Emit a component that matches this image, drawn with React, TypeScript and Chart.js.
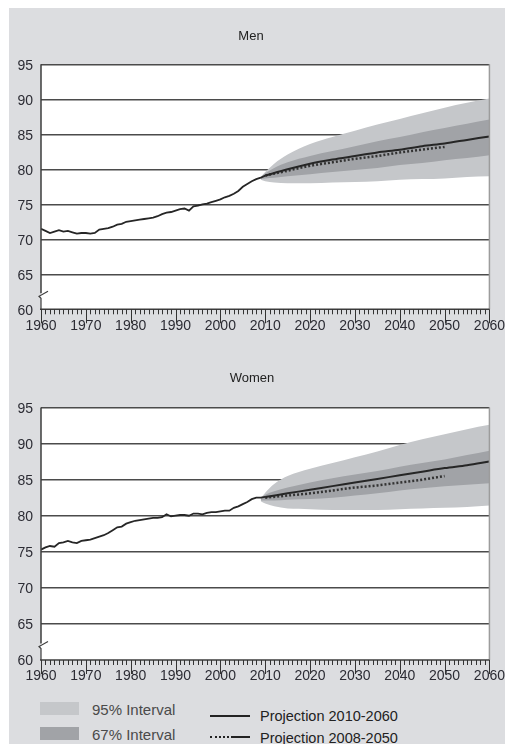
import React, { useEffect, useRef } from "react";
import { Chart, registerables } from "chart.js";

Chart.register(...registerables);

// ---------- data ----------
const histYears = [
  1960, 1961, 1962, 1963, 1964, 1965, 1966, 1967, 1968, 1969,
  1970, 1971, 1972, 1973, 1974, 1975, 1976, 1977, 1978, 1979,
  1980, 1981, 1982, 1983, 1984, 1985, 1986, 1987, 1988, 1989,
  1990, 1991, 1992, 1993, 1994, 1995, 1996, 1997, 1998, 1999,
  2000, 2001, 2002, 2003, 2004, 2005, 2006, 2007, 2008, 2009, 2010,
];
const menHist = [
  71.5, 71.2, 70.9, 71.1, 71.3, 71.1, 71.2, 71.0, 70.8, 70.9,
  70.9, 70.8, 70.9, 71.4, 71.5, 71.6, 71.8, 72.1, 72.2, 72.5,
  72.6, 72.7, 72.8, 72.9, 73.0, 73.1, 73.3, 73.6, 73.8, 73.9,
  74.1, 74.3, 74.4, 74.1, 74.7, 74.8, 75.0, 75.1, 75.3, 75.5,
  75.7, 76.0, 76.2, 76.5, 76.9, 77.5, 77.9, 78.3, 78.6, 78.8, 79.1,
];
const womenHist = [
  75.3, 75.6, 75.8, 75.7, 76.2, 76.3, 76.5, 76.3, 76.2, 76.5,
  76.6, 76.7, 76.9, 77.1, 77.3, 77.6, 78.0, 78.4, 78.5, 78.9,
  79.1, 79.3, 79.4, 79.5, 79.6, 79.7, 79.7, 79.8, 80.2, 79.9,
  80.0, 80.1, 80.1, 80.0, 80.3, 80.3, 80.2, 80.4, 80.5, 80.5,
  80.6, 80.7, 80.7, 81.1, 81.3, 81.6, 81.9, 82.3, 82.5, 82.5, 82.6,
];

const projYears = [2010, 2015, 2020, 2025, 2030, 2035, 2040, 2045, 2050, 2055, 2060];
const menProj = [79.1, 80.0, 80.8, 81.4, 81.9, 82.4, 82.8, 83.3, 83.7, 84.2, 84.7];
const womenProj = [82.6, 83.1, 83.6, 84.1, 84.6, 85.1, 85.6, 86.1, 86.6, 87.0, 87.5];

const prevYears = [2010, 2015, 2020, 2025, 2030, 2035, 2040, 2045, 2050];
const menPrev = [79.1, 79.8, 80.5, 81.0, 81.5, 81.9, 82.4, 82.8, 83.2];
const womenPrev = [82.5, 82.8, 83.1, 83.5, 83.9, 84.2, 84.6, 85.0, 85.5];

const bandYears = [2009, 2010, 2012, 2015, 2020, 2025, 2030, 2035, 2040, 2045, 2050, 2055, 2060];
const men95Hi = [78.9, 79.6, 80.8, 82.1, 83.6, 84.6, 85.5, 86.4, 87.2, 88.0, 88.8, 89.5, 90.1];
const men95Lo = [78.5, 78.3, 78.1, 78.0, 78.0, 78.1, 78.2, 78.3, 78.5, 78.6, 78.7, 78.9, 79.0];
const men67Hi = [78.9, 79.4, 80.2, 81.0, 81.9, 82.6, 83.3, 84.0, 84.6, 85.3, 85.9, 86.5, 87.1];
const men67Lo = [78.6, 78.7, 78.8, 79.0, 79.3, 79.6, 79.9, 80.2, 80.6, 80.9, 81.3, 81.6, 82.0];
const women95Hi = [82.4, 83.2, 84.4, 85.5, 86.5, 87.3, 88.1, 88.9, 89.8, 90.6, 91.3, 92.0, 92.6];
const women95Lo = [82.0, 81.7, 81.3, 81.0, 80.9, 80.8, 80.8, 80.8, 80.9, 81.0, 81.1, 81.2, 81.4];
const women67Hi = [82.4, 82.9, 83.4, 83.9, 84.6, 85.2, 85.7, 86.2, 86.8, 87.3, 87.8, 88.4, 89.0];
const women67Lo = [82.1, 82.1, 82.1, 82.2, 82.3, 82.5, 82.8, 83.1, 83.5, 83.8, 84.1, 84.3, 84.5];

const yMin = 60;
const yMax = 95;
const yStep = 5;
const xMin = 1960;
const xMax = 2060;
const xStep = 10;
const breakValue = 62;

const titles = ["Men", "Women"];
const legendLabels = ["95% Interval", "67% Interval", "Projection 2010-2060", "Projection 2008-2050"];

// ---------- styles ----------
const BG = "#dcdde0";
const C95 = "#c5c7ca";
const C67 = "#a1a3a7";
const LINE = "#262626";
const GRID = "#4b4b4b";
const FONT = "'Liberation Sans', Arial, sans-serif";

const pts = (xs: number[], ys: number[]) => xs.map((x, i) => ({ x, y: ys[i] }));

const decorPlugin = {
  id: "decor",
  beforeDraw(chart: any) {
    const { ctx, chartArea: a } = chart;
    ctx.save();
    ctx.fillStyle = "#ffffff";
    ctx.fillRect(a.left, a.top, a.right - a.left, a.bottom - a.top);
    ctx.restore();
  },
  afterDatasetsDraw(chart: any) {
    const { ctx, chartArea: a, scales } = chart;
    const xs = scales.x;
    const ys = scales.y;
    ctx.save();
    // right border
    ctx.strokeStyle = "#9c9c9c";
    ctx.lineWidth = 1.5;
    ctx.beginPath();
    ctx.moveTo(a.right, a.top);
    ctx.lineTo(a.right, a.bottom);
    ctx.stroke();
    // left axis with break
    const yb = ys.getPixelForValue(breakValue);
    ctx.strokeStyle = "#3c3c3c";
    ctx.lineWidth = 1.5;
    ctx.beginPath();
    ctx.moveTo(a.left, a.top);
    ctx.lineTo(a.left, yb - 2);
    ctx.stroke();
    ctx.lineWidth = 1.2;
    ctx.beginPath();
    ctx.moveTo(a.left + 7, yb - 4);
    ctx.lineTo(a.left - 2, yb + 1);
    ctx.lineTo(a.left, yb + 3);
    ctx.lineTo(a.left, a.bottom);
    ctx.stroke();
    // x axis
    ctx.lineWidth = 1.5;
    ctx.beginPath();
    ctx.moveTo(a.left - 1, a.bottom);
    ctx.lineTo(a.right, a.bottom);
    ctx.stroke();
    // ticks
    ctx.lineWidth = 1;
    ctx.strokeStyle = "#333333";
    for (let yr = xMin; yr <= xMax; yr++) {
      const px = Math.round(xs.getPixelForValue(yr)) + 0.5;
      const len = yr % xStep === 0 ? 14 : 5;
      ctx.beginPath();
      ctx.moveTo(px, a.bottom);
      ctx.lineTo(px, a.bottom + len);
      ctx.stroke();
    }
    ctx.restore();
  },
};

type Geom = {
  titleTop: number;
  titleBottom: number;
  padRight: number;
  padBottom: number;
  xHeight: number;
};

function makeConfig(
  title: string,
  hist: number[],
  proj: number[],
  prev: number[],
  b95hi: number[],
  b95lo: number[],
  b67hi: number[],
  b67lo: number[],
  g: Geom
): any {
  const bandBase = {
    borderWidth: 0,
    borderColor: "transparent",
    pointRadius: 0,
    cubicInterpolationMode: "monotone",
  };
  return {
    type: "line",
    data: {
      datasets: [
        {
          data: pts(projYears, proj),
          borderColor: LINE,
          borderWidth: 2,
          pointRadius: 0,
          cubicInterpolationMode: "monotone",
          fill: false,
        },
        {
          data: pts(prevYears, prev),
          borderColor: "#333333",
          borderWidth: 2.5,
          borderDash: [2, 2],
          pointRadius: 0,
          cubicInterpolationMode: "monotone",
          fill: false,
        },
        {
          data: pts(histYears, hist),
          borderColor: LINE,
          borderWidth: 1.8,
          pointRadius: 0,
          tension: 0,
          fill: false,
        },
        { ...bandBase, data: pts(bandYears, b67hi), backgroundColor: C67, fill: "+1" },
        { ...bandBase, data: pts(bandYears, b67lo), fill: false },
        { ...bandBase, data: pts(bandYears, b95hi), backgroundColor: C95, fill: "+1" },
        { ...bandBase, data: pts(bandYears, b95lo), fill: false },
      ],
    },
    options: {
      responsive: false,
      animation: false,
      events: [],
      layout: { padding: { left: 0, right: g.padRight, top: 0, bottom: g.padBottom } },
      plugins: {
        legend: { display: false },
        tooltip: { enabled: false },
        title: {
          display: true,
          text: title,
          color: "#222222",
          font: { family: FONT, size: 13, weight: "normal" },
          padding: { top: g.titleTop, bottom: g.titleBottom },
        },
      },
      scales: {
        x: {
          type: "linear",
          min: xMin,
          max: xMax,
          grid: { display: false, drawTicks: false },
          border: { display: false },
          ticks: {
            stepSize: xStep,
            autoSkip: false,
            maxRotation: 0,
            padding: 8,
            color: "#2c2c34",
            font: { family: FONT, size: 14 },
            callback: (v: number) => String(v),
          },
          afterFit: (s: any) => {
            s.height = g.xHeight;
          },
        },
        y: {
          min: yMin,
          max: yMax,
          grid: {
            drawTicks: false,
            lineWidth: 1.5,
            color: (c: any) => (c.tick && c.tick.value === yMin ? "transparent" : GRID),
          },
          border: { display: false },
          ticks: {
            stepSize: yStep,
            padding: 8,
            labelOffset: 1.5,
            color: "#2c2c34",
            font: { family: FONT, size: 14 },
          },
          afterFit: (s: any) => {
            s.width = 32;
          },
        },
      },
    },
    plugins: [decorPlugin],
  };
}

function ChartCanvas(props: { cfg: () => any; top: number }) {
  const ref = useRef<HTMLCanvasElement | null>(null);
  useEffect(() => {
    if (!ref.current) return;
    const chart = new Chart(ref.current, props.cfg());
    return () => chart.destroy();
  }, []);
  return (
    <canvas
      ref={ref}
      width={504}
      height={340}
      style={{ position: "absolute", left: 0, top: props.top, width: 504, height: 340, display: "block" }}
    />
  );
}

export default function App() {
  useEffect(() => {
    document.body.style.overflow = "hidden";
  }, []);
  const text = (s: string, left: number, top: number, size: number, color: string) => (
    <div
      style={{
        position: "absolute",
        left,
        top,
        fontFamily: FONT,
        fontSize: size,
        lineHeight: `${size}px`,
        color,
        whiteSpace: "nowrap",
      }}
    >
      {s}
    </div>
  );
  return (
    <div
      style={{
        position: "relative",
        marginLeft: 1,
        width: 504,
        height: 736,
        background: BG,
        overflow: "hidden",
      }}
    >
      <ChartCanvas
        top={0}
        cfg={() =>
          makeConfig(titles[0], menHist, menProj, menPrev, men95Hi, men95Lo, men67Hi, men67Lo, {
            titleTop: 21,
            titleBottom: 19.7,
            padRight: 20,
            padBottom: 8.7,
            xHeight: 30,
          })
        }
      />
      <ChartCanvas
        top={340}
        cfg={() =>
          makeConfig(titles[1], womenHist, womenProj, womenPrev, women95Hi, women95Lo, women67Hi, women67Lo, {
            titleTop: 22.2,
            titleBottom: 21.7,
            padRight: 18,
            padBottom: 0,
            xHeight: 28,
          })
        }
      />
      <div style={{ position: "absolute", left: 31, top: 694, width: 39, height: 13, background: C95 }} />
      <div style={{ position: "absolute", left: 31, top: 719, width: 39, height: 13, background: C67 }} />
      {text(legendLabels[0], 83, 693.5, 15, "#4a4a4a")}
      {text(legendLabels[1], 83, 718.5, 15, "#4a4a4a")}
      <div style={{ position: "absolute", left: 201, top: 707, width: 40, height: 0, borderTop: "2px solid #222" }} />
      <div style={{ position: "absolute", left: 201, top: 728, width: 23, height: 0, borderTop: "2px dotted #222" }} />
      <div style={{ position: "absolute", left: 224, top: 728, width: 17, height: 0, borderTop: "2px solid #222" }} />
      {text(legendLabels[2], 251, 700.75, 14.5, "#222222")}
      {text(legendLabels[3], 251, 722.75, 14.5, "#222222")}
    </div>
  );
}
